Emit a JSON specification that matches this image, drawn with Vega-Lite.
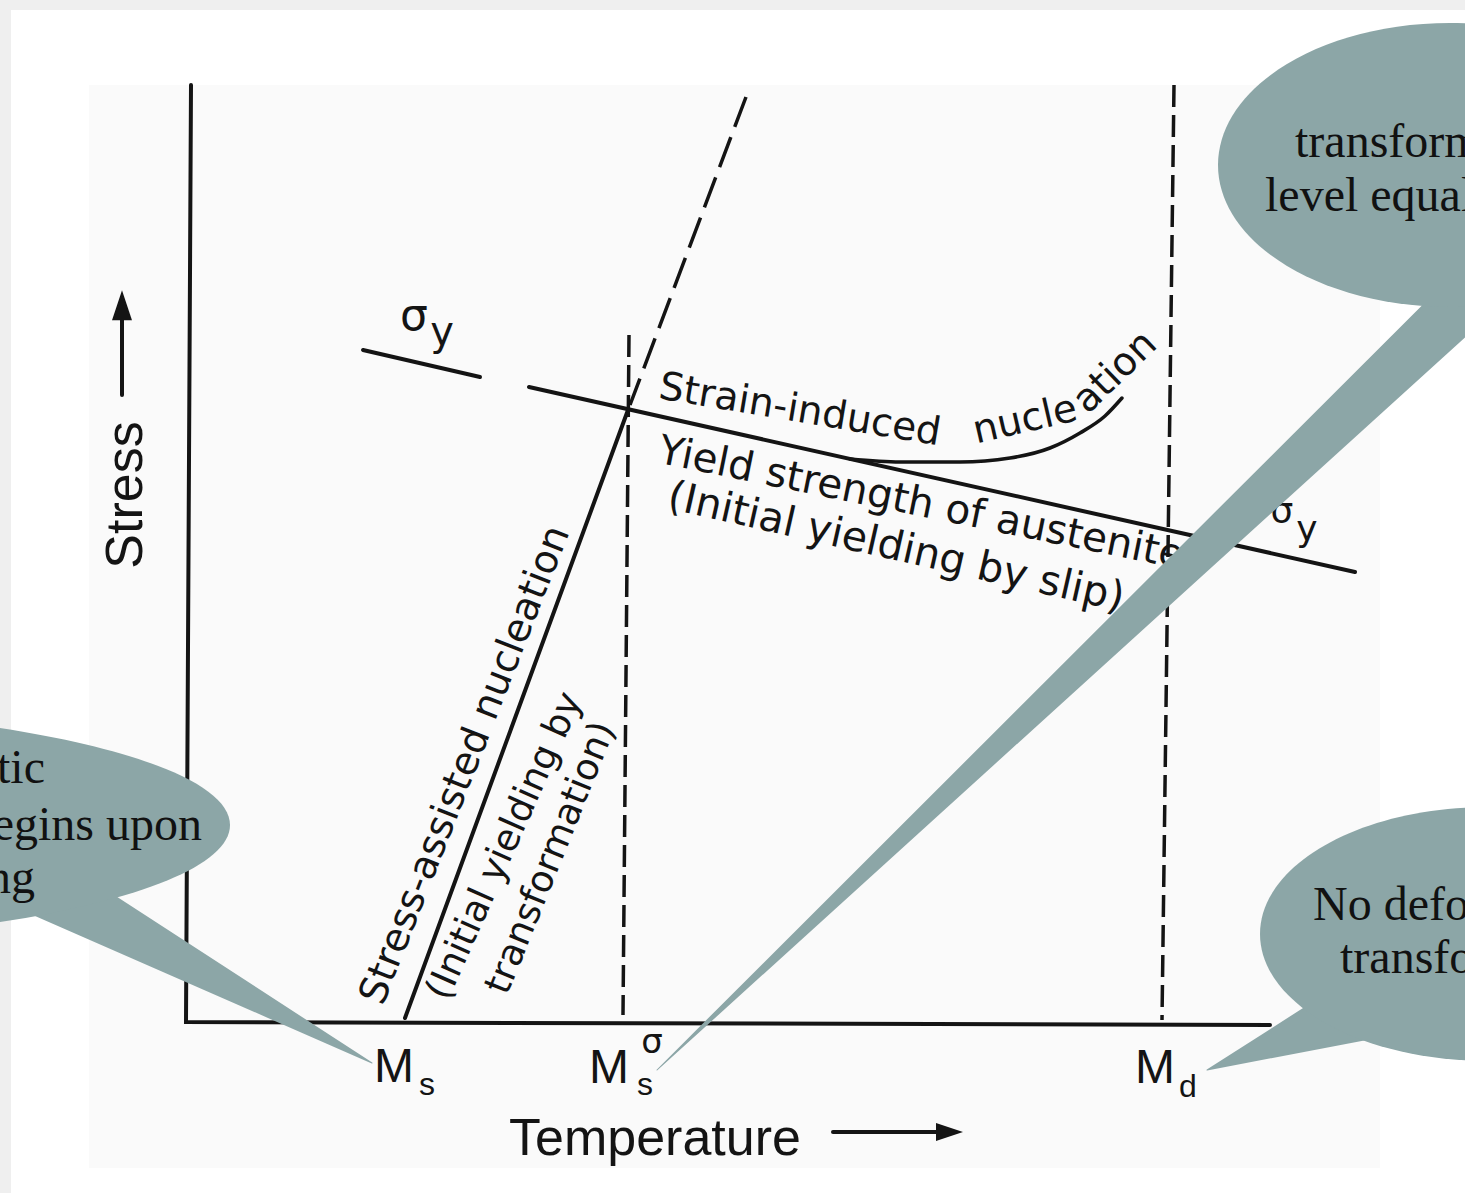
{
  "$schema": "https://vega.github.io/schema/vega-lite/v6.json",
  "width": 1465,
  "height": 1193,
  "autosize": {"type": "fit", "contains": "padding"},
  "padding": 0,
  "background": "#efefef",
  "config": {"view": {"stroke": null}},
  "encoding": {
    "x": {"field": "x", "type": "quantitative", "scale": {"domain": [0, 1465], "nice": false, "zero": false}, "axis": null},
    "y": {"field": "y", "type": "quantitative", "scale": {"domain": [1193, 0], "nice": false, "zero": false}, "axis": null}
  },
  "layer": [
    {
      "data": {"values": [{"x": 11, "y": 10, "x2": 1465, "y2": 1193}]},
      "mark": {"type": "rect", "color": "#ffffff"},
      "encoding": {"x2": {"field": "x2"}, "y2": {"field": "y2"}}
    },
    {
      "data": {"values": [{"x": 89, "y": 85, "x2": 1380, "y2": 1168}]},
      "mark": {"type": "rect", "color": "#fafafa"},
      "encoding": {"x2": {"field": "x2"}, "y2": {"field": "y2"}}
    },
    {
      "data": {"values": [
        {"id": "axis", "i": 0, "x": 191, "y": 85},
        {"id": "axis", "i": 1, "x": 186, "y": 1022},
        {"id": "axis", "i": 2, "x": 1270, "y": 1025},
        {"id": "sy", "i": 0, "x": 363, "y": 350},
        {"id": "sy", "i": 1, "x": 480, "y": 377},
        {"id": "yield", "i": 0, "x": 529, "y": 387},
        {"id": "yield", "i": 1, "x": 1355, "y": 572},
        {"id": "sa", "i": 0, "x": 405, "y": 1018},
        {"id": "sa", "i": 1, "x": 628, "y": 410},
        {"id": "sarrow", "i": 0, "x": 122, "y": 395},
        {"id": "sarrow", "i": 1, "x": 122, "y": 318},
        {"id": "tarrow", "i": 0, "x": 833, "y": 1132},
        {"id": "tarrow", "i": 1, "x": 940, "y": 1132}
      ]},
      "mark": {"type": "line", "color": "#141414", "strokeWidth": 4, "strokeCap": "round"},
      "encoding": {"detail": {"field": "id"}, "order": {"field": "i"}}
    },
    {
      "data": {"values": [
        {"i": 0, "x": 850, "y": 459},
        {"i": 1, "x": 900, "y": 462},
        {"i": 2, "x": 960, "y": 462},
        {"i": 3, "x": 1010, "y": 458},
        {"i": 4, "x": 1050, "y": 448},
        {"i": 5, "x": 1080, "y": 433},
        {"i": 6, "x": 1105, "y": 416},
        {"i": 7, "x": 1122, "y": 398}
      ]},
      "mark": {"type": "line", "color": "#141414", "strokeWidth": 3.5, "strokeCap": "round", "interpolate": "monotone"},
      "encoding": {"order": {"field": "i"}}
    },
    {
      "data": {"values": [
        {"id": "md", "i": 0, "x": 1174, "y": 85},
        {"id": "md", "i": 1, "x": 1162, "y": 1020},
        {"id": "mss", "i": 0, "x": 629, "y": 335},
        {"id": "mss", "i": 1, "x": 623, "y": 1015}
      ]},
      "mark": {"type": "line", "color": "#141414", "strokeWidth": 3.5, "strokeDash": [22, 8]},
      "encoding": {"detail": {"field": "id"}, "order": {"field": "i"}}
    },
    {
      "data": {"values": [
        {"i": 0, "x": 746, "y": 97},
        {"i": 1, "x": 630, "y": 405}
      ]},
      "mark": {"type": "line", "color": "#141414", "strokeWidth": 3.5, "strokeDash": [32, 11]},
      "encoding": {"order": {"field": "i"}}
    },
    {
      "data": {"values": [{"x": 122, "y": 307}]},
      "mark": {"type": "point", "shape": "M0,-1L0.6,0.8L-0.6,0.8Z", "size": 1111, "filled": true, "opacity": 1, "color": "#141414"}
    },
    {
      "data": {"values": [{"x": 948, "y": 1132}]},
      "mark": {"type": "point", "shape": "M1,0L-0.8,0.6L-0.8,-0.6Z", "size": 900, "filled": true, "opacity": 1, "color": "#141414"}
    },
    {
      "data": {"values": [{"x": 655, "y": 1155, "t": "Temperature"}]},
      "mark": {"type": "text", "font": "Liberation Sans", "fontSize": 52, "align": "center", "baseline": "alphabetic", "color": "#141414"},
      "encoding": {"text": {"field": "t"}}
    },
    {
      "data": {"values": [{"x": 142, "y": 495, "t": "Stress"}]},
      "mark": {"type": "text", "font": "Liberation Sans", "fontSize": 52, "align": "center", "baseline": "alphabetic", "angle": 270, "color": "#141414"},
      "encoding": {"text": {"field": "t"}}
    },
    {
      "data": {"values": [
        {"x": 394, "y": 1082, "t": "M"},
        {"x": 609, "y": 1083, "t": "M"},
        {"x": 1155, "y": 1083, "t": "M"}
      ]},
      "mark": {"type": "text", "font": "Liberation Sans", "fontSize": 48, "align": "center", "baseline": "alphabetic", "color": "#141414"},
      "encoding": {"text": {"field": "t"}}
    },
    {
      "data": {"values": [
        {"x": 427, "y": 1095, "t": "s"},
        {"x": 645, "y": 1095, "t": "s"},
        {"x": 1188, "y": 1097, "t": "d"}
      ]},
      "mark": {"type": "text", "font": "Liberation Sans", "fontSize": 32, "align": "center", "baseline": "alphabetic", "color": "#141414"},
      "encoding": {"text": {"field": "t"}}
    },
    {
      "data": {"values": [{"x": 652, "y": 1053, "t": "σ"}]},
      "mark": {"type": "text", "font": "DejaVu Sans", "fontSize": 34, "align": "center", "baseline": "alphabetic", "color": "#141414"},
      "encoding": {"text": {"field": "t"}}
    },
    {
      "data": {"values": [{"x": 414, "y": 330, "t": "σ"}]},
      "mark": {"type": "text", "font": "DejaVu Sans", "fontSize": 44, "align": "center", "baseline": "alphabetic", "color": "#141414"},
      "encoding": {"text": {"field": "t"}}
    },
    {
      "data": {"values": [{"x": 442, "y": 345, "t": "y"}]},
      "mark": {"type": "text", "font": "DejaVu Sans", "fontSize": 40, "align": "center", "baseline": "alphabetic", "color": "#141414"},
      "encoding": {"text": {"field": "t"}}
    },
    {
      "data": {"values": [
        {"x": 1282, "y": 523, "t": "σ"},
        {"x": 1307, "y": 541, "t": "y"}
      ]},
      "mark": {"type": "text", "font": "DejaVu Sans", "fontSize": 36, "align": "center", "baseline": "alphabetic", "color": "#141414"},
      "encoding": {"text": {"field": "t"}}
    },
    {
      "data": {"values": [{"x": 800, "y": 410, "t": "Strain-induced"}]},
      "mark": {"type": "text", "font": "DejaVu Sans", "fontSize": 39, "align": "center", "baseline": "middle", "angle": 9.5, "color": "#141414"},
      "encoding": {"text": {"field": "t"}}
    },
    {
      "data": {"values": [{"x": 1025, "y": 420, "t": "nucle"}]},
      "mark": {"type": "text", "font": "DejaVu Sans", "fontSize": 39, "align": "center", "baseline": "middle", "angle": -13, "color": "#141414"},
      "encoding": {"text": {"field": "t"}}
    },
    {
      "data": {"values": [{"x": 1115, "y": 372, "t": "ation"}]},
      "mark": {"type": "text", "font": "DejaVu Sans", "fontSize": 39, "align": "center", "baseline": "middle", "angle": -44, "color": "#141414"},
      "encoding": {"text": {"field": "t"}}
    },
    {
      "data": {"values": [{"x": 921, "y": 504, "t": "Yield strength of austenite"}]},
      "mark": {"type": "text", "font": "DejaVu Sans", "fontSize": 40.5, "align": "center", "baseline": "middle", "angle": 11.5, "color": "#141414"},
      "encoding": {"text": {"field": "t"}}
    },
    {
      "data": {"values": [{"x": 896, "y": 548, "t": "(Initial yielding by slip)"}]},
      "mark": {"type": "text", "font": "DejaVu Sans", "fontSize": 41, "align": "center", "baseline": "middle", "angle": 12.8, "color": "#141414"},
      "encoding": {"text": {"field": "t"}}
    },
    {
      "data": {"values": [{"x": 465, "y": 765, "t": "Stress-assisted nucleation"}]},
      "mark": {"type": "text", "font": "DejaVu Sans", "fontSize": 39, "align": "center", "baseline": "middle", "angle": -68.5, "color": "#141414"},
      "encoding": {"text": {"field": "t"}}
    },
    {
      "data": {"values": [{"x": 505, "y": 846, "t": "(Initial yielding by"}]},
      "mark": {"type": "text", "font": "DejaVu Sans", "fontSize": 37, "align": "center", "baseline": "middle", "angle": -66, "color": "#141414"},
      "encoding": {"text": {"field": "t"}}
    },
    {
      "data": {"values": [{"x": 551, "y": 858, "t": "transformation)"}]},
      "mark": {"type": "text", "font": "DejaVu Sans", "fontSize": 37, "align": "center", "baseline": "middle", "angle": -68, "color": "#141414"},
      "encoding": {"text": {"field": "t"}}
    },
    {
      "data": {"values": [
        {"id": "t1", "i": 0, "x": 657, "y": 1070, "w": 0},
        {"id": "t1", "i": 1, "x": 1490, "y": 277, "w": 56},
        {"id": "t2", "i": 0, "x": 372, "y": 1063, "w": 0},
        {"id": "t2", "i": 1, "x": 38, "y": 883, "w": 63},
        {"id": "t3", "i": 0, "x": 1207, "y": 1070, "w": 0},
        {"id": "t3", "i": 1, "x": 1393, "y": 996, "w": 78}
      ]},
      "mark": {"type": "trail", "color": "#8ca6a7", "clip": true},
      "encoding": {
        "detail": {"field": "id"},
        "order": {"field": "i"},
        "size": {"field": "w", "type": "quantitative", "scale": {"type": "linear", "domain": [0, 100], "range": [0, 100], "zero": true}, "legend": null}
      }
    },
    {
      "data": {"values": [{"x": 1450, "y": 165}]},
      "mark": {"type": "point", "shape": "M-1,0A1,0.612,0,1,1,1,0A1,0.612,0,1,1,-1,0Z", "size": 215296, "filled": true, "opacity": 1, "strokeWidth": 0, "color": "#8ca6a7", "clip": true}
    },
    {
      "data": {"values": [{"x": -315, "y": 825}]},
      "mark": {"type": "point", "shape": "M-1,0A1,0.2183,0,1,1,1,0A1,0.2183,0,1,1,-1,0Z", "size": 1188100, "filled": true, "opacity": 1, "strokeWidth": 0, "color": "#8ca6a7", "clip": true}
    },
    {
      "data": {"values": [{"x": 1487, "y": 934}]},
      "mark": {"type": "point", "shape": "M-1,0A1,0.559,0,1,1,1,0A1,0.559,0,1,1,-1,0Z", "size": 206116, "filled": true, "opacity": 1, "strokeWidth": 0, "color": "#8ca6a7", "clip": true}
    },
    {
      "data": {"values": [
        {"x": 1295, "y": 157, "t": "transform"},
        {"x": 1265, "y": 211, "t": "level equal"},
        {"x": 1313, "y": 920, "t": "No defo"},
        {"x": 1340, "y": 973, "t": "transfo"}
      ]},
      "mark": {"type": "text", "font": "Liberation Serif", "fontSize": 48, "align": "left", "baseline": "alphabetic", "color": "#111111", "clip": true},
      "encoding": {"text": {"field": "t"}}
    },
    {
      "data": {"values": [
        {"x": 45, "y": 783, "t": "tic"},
        {"x": 202, "y": 840, "t": "egins upon"},
        {"x": 35, "y": 893, "t": "ng"}
      ]},
      "mark": {"type": "text", "font": "Liberation Serif", "fontSize": 48, "align": "right", "baseline": "alphabetic", "color": "#111111", "clip": true},
      "encoding": {"text": {"field": "t"}}
    }
  ]
}
